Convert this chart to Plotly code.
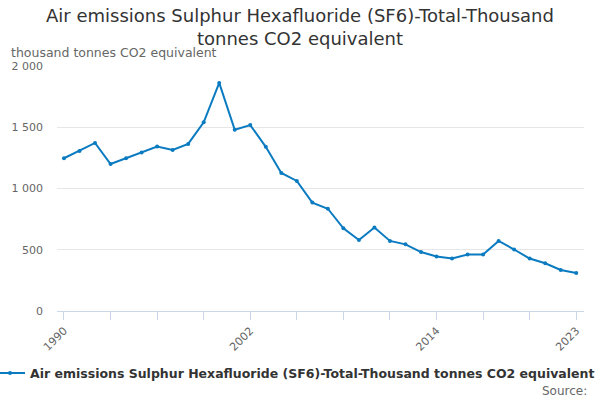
import plotly.graph_objects as go

years = list(range(1990, 2024))
values = [1247, 1307, 1372, 1200, 1247, 1294, 1342, 1315, 1364, 1540,
          1862, 1480, 1518, 1340, 1127, 1062, 885, 835, 675, 580,
          681, 572, 544, 481, 445, 428, 461, 461, 572, 502,
          428, 390, 335, 310]
series_name = "Air emissions Sulphur Hexafluoride (SF6)-Total-Thousand tonnes CO2 equivalent"
tick_years = list(range(1990, 2024, 3))
label_years = [1990, 2002, 2014, 2023]
y_ticks = [0, 500, 1000, 1500, 2000]
y_labels = ["0", "500", "1 000", "1 500", "2 000"]

font = "DejaVu Sans"
color = "#0b7bc1"

fig = go.Figure()
fig.add_trace(go.Scatter(
    x=years, y=values, mode="lines+markers", name=series_name,
    line=dict(color=color, width=2),
    marker=dict(color=color, size=4),
))

fig.update_layout(
    width=600, height=400,
    paper_bgcolor="white", plot_bgcolor="white",
    margin=dict(l=57, r=16, t=66, b=88.5, autoexpand=False),
    font=dict(family=font, color="#666666", size=11),
    showlegend=True,
    legend=dict(
        orientation="h", x=-57 / 527, xanchor="left", y=-0.255, yanchor="middle",
        font=dict(family=font, size=12.5, color="#333333", weight="bold"),
        itemwidth=30, indentation=-10,
    ),
    xaxis=dict(
        range=[1989.55, 2023.5],
        tickvals=tick_years + [2023],
        ticktext=[str(y) if y in label_years else "" for y in tick_years] + ["2023"],
        tickangle=-45,
        ticks="outside", ticklen=8, tickcolor="#ccd6eb",
        showline=True, linecolor="#ccd6eb", linewidth=1,
        showgrid=False, zeroline=False, automargin=False,
        tickfont=dict(family=font, size=11, color="#666666"),
    ),
    yaxis=dict(
        range=[0, 2000],
        tickvals=y_ticks, ticktext=y_labels,
        showgrid=True, gridcolor="#e6e6e6", gridwidth=1,
        zeroline=False, showline=False, ticks="",
        ticklabelstandoff=13, automargin=False,
        tickfont=dict(family=font, size=11, color="#666666"),
    ),
    annotations=[
        dict(text="Air emissions Sulphur Hexafluoride (SF6)-Total-Thousand<br>tonnes CO2 equivalent",
             xref="paper", yref="paper", x=0.5, y=1, xanchor="center", yanchor="bottom",
             xshift=-20.5, yshift=15, showarrow=False,
             font=dict(family=font, size=18, color="#333333")),
        dict(text="thousand tonnes CO2 equivalent", xref="paper", yref="paper",
             x=0, y=1, xanchor="left", yanchor="middle", xshift=-48, yshift=14, showarrow=False,
             font=dict(family=font, size=12.5, color="#666666")),
        dict(text="Source:", xref="paper", yref="paper", x=1, y=0, xanchor="right",
             yanchor="middle", xshift=5, yshift=-80, showarrow=False,
             font=dict(family=font, size=12, color="#666666")),
    ],
)

fig.write_html("out.html", config={"displayModeBar": False},
               post_script="document.body.style.margin='0';")
